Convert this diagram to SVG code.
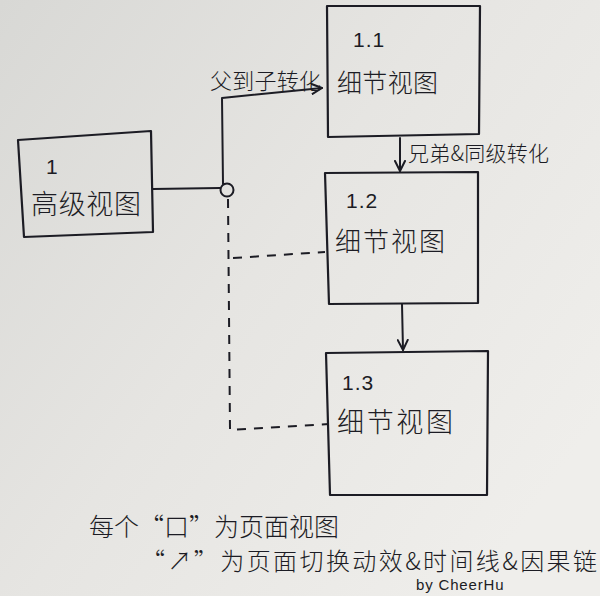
<svg xmlns="http://www.w3.org/2000/svg" width="600" height="596" viewBox="0 0 600 596">
<defs>
<linearGradient id="paper" x1="0" y1="0" x2="1" y2="0.7">
<stop offset="0" stop-color="#d8d8d5"/>
<stop offset="0.5" stop-color="#e6e5e2"/>
<stop offset="1" stop-color="#efeeeb"/>
</linearGradient>
<marker id="arr" viewBox="0 0 12 12" refX="11" refY="6" markerWidth="12" markerHeight="12" markerUnits="userSpaceOnUse" orient="auto">
<path d="M1,1 L11,6 L1,11" fill="none" stroke="#1c1c24" stroke-width="2" stroke-linecap="round" stroke-linejoin="round"/>
</marker>
<style>
.box{fill:none;stroke:#1c1c24;stroke-width:2.2;stroke-linejoin:round}
.ln{fill:none;stroke:#1c1c24;stroke-width:2;stroke-linecap:round;stroke-linejoin:round}
.dash{fill:none;stroke:#1c1c24;stroke-width:2;stroke-dasharray:9 8}
.t{font-family:"Noto Sans CJK SC","Noto Sans",sans-serif;fill:#1c1c24;font-weight:300}
.num{font-family:"Liberation Sans","Noto Sans",sans-serif;fill:#1c1c24;font-size:21px;letter-spacing:1px}
.by{font-family:"Liberation Sans","Noto Sans",sans-serif;fill:#1c1c24;font-size:15px;letter-spacing:0.5px}
</style>
</defs>
<rect width="600" height="596" fill="url(#paper)"/>

<g id="node-1">
<path class="box" d="M18,140 L151,131 L153,232 L24,237 Z"/>
<text class="num" x="46" y="174">1</text>
<text class="t" x="31" y="214" font-size="27" textLength="110">高级视图</text>
</g>

<g id="node-1-1">
<path class="box" d="M327,6 L480,6 L479,134 L328,137 Z"/>
<text class="num" x="353" y="47">1.1</text>
<text class="t" x="337" y="92" font-size="25" textLength="101">细节视图</text>
</g>

<g id="node-1-2">
<path class="box" d="M325,173 L478,172 L478,303 L329,304 Z"/>
<text class="num" x="346" y="208">1.2</text>
<text class="t" x="335" y="251" font-size="26" textLength="110">细节视图</text>
</g>

<g id="node-1-3">
<path class="box" d="M326,353 L488,351 L487,495 L330,495 Z"/>
<text class="num" x="342" y="390">1.3</text>
<text class="t" x="337" y="432" font-size="27" textLength="116">细节视图</text>
</g>

<g id="connectors">
<path class="ln" d="M153,189 L220,188"/>
<circle cx="227" cy="190" r="6.5" fill="none" stroke="#1c1c24" stroke-width="2"/>
<path class="ln" d="M223,184 L222,98 L322,88" marker-end="url(#arr)"/>
<path class="ln" d="M400,138 L400,171" marker-end="url(#arr)"/>
<path class="ln" d="M402,304 L403,350" marker-end="url(#arr)"/>
<path class="dash" d="M228,199 L230,430 L329,424"/>
<path class="dash" d="M233,258 L325,252"/>
<text class="t" x="210" y="89" font-size="22" textLength="111">父到子转化</text>
<text class="t" x="408" y="161" font-size="21" textLength="141">兄弟&amp;同级转化</text>
</g>

<g id="notes">
<text class="t" x="89" y="536" font-size="25" textLength="250">每个“口”为页面视图</text>
<text class="t" x="141" y="570" font-size="24" textLength="456">“↗”为页面切换动效&amp;时间线&amp;因果链</text>
<text class="by" x="416" y="590" textLength="88">by CheerHu</text>
</g>
</svg>
